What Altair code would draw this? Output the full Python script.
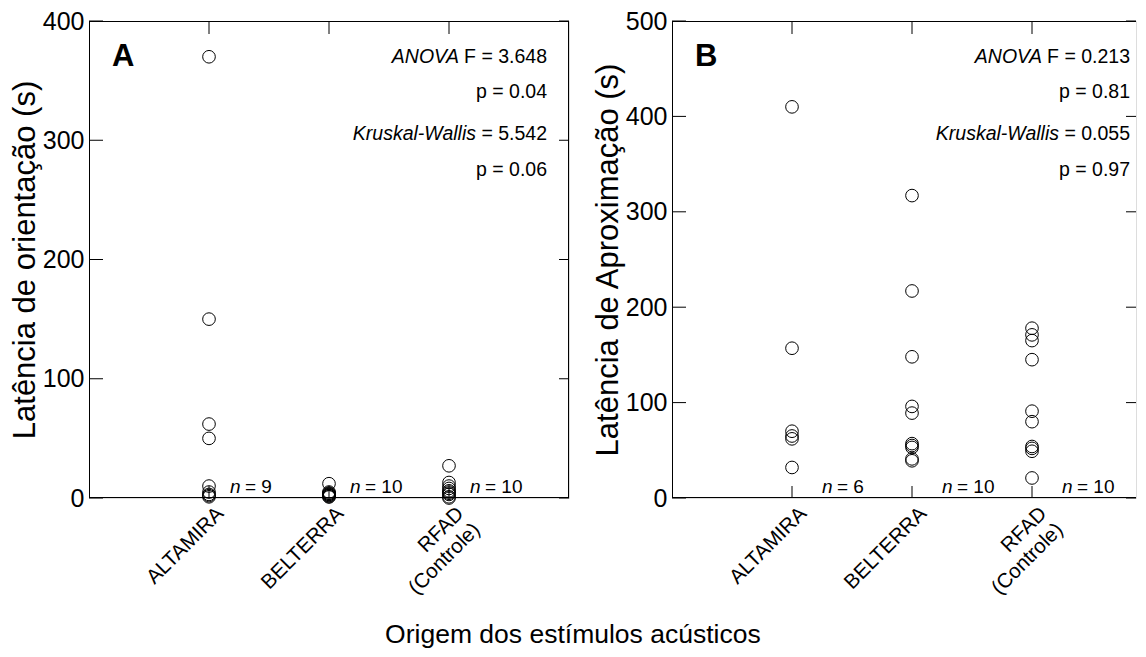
import altair as alt
import pandas as pd

FONT = "Liberation Sans"
H = 477
STEP = 120  # pixels between categories (used to size panels)
WA = 480
WB = 464

groups = ["ALTAMIRA", "BELTERRA", "RFAD (Controle)"]
group_pos = [1, 2, 3]

# Panel A - Latência de orientação (s)
a_altamira = [370, 150, 62, 50, 10, 5, 3, 2, 1]
a_belterra = [12, 5, 4, 4, 3, 3, 2, 2, 1, 1]
a_rfad = [27, 13, 10, 8, 6, 5, 4, 3, 1, 0]
a_n = [9, 10, 10]
a_stats_italic = ["ANOVA", "", "Kruskal-Wallis", ""]
a_stats_normal = ["F = 3.648", "p = 0.04", "= 5.542", "p = 0.06"]

# Panel B - Latência de Aproximação (s)
b_altamira = [410, 157, 70, 65, 62, 32]
b_belterra = [317, 217, 148, 96, 89, 57, 55, 53, 41, 39]
b_rfad = [178, 171, 165, 145, 91, 80, 54, 52, 49, 21]
b_n = [6, 10, 10]
b_stats_italic = ["ANOVA", "", "Kruskal-Wallis", ""]
b_stats_normal = ["F = 0.213", "p = 0.81", "= 0.055", "p = 0.97"]

label_expr = ("datum.value == 1 ? 'ALTAMIRA' : datum.value == 2 ? 'BELTERRA' : "
              "datum.value == 3 ? ['RFAD', '(Controle)'] : ''")

STAT_FS = 19.5
STAT_X = 458


def rule(x=None, x2=None, y=None, y2=None):
    enc = {}
    for k, v in (("x", x), ("x2", x2), ("y", y), ("y2", y2)):
        if v is not None:
            enc[k] = alt.value(v)
    return alt.Chart(pd.DataFrame({"k": [0]})).mark_rule(
        color="black", strokeWidth=1).encode(**enc)


def panel(series, ymax, ytitle, letter, st_it, st_no, ns, n_off, W, right_border):
    rows = []
    for p, vals in zip(group_pos, series):
        for v in vals:
            rows.append({"pos": p, "v": v})
    df = pd.DataFrame(rows)

    xs = alt.Scale(domain=[0, W / STEP], nice=False, zero=False)
    ys = alt.Scale(domain=[0, ymax], nice=False, zero=True)
    yticks = list(range(0, ymax + 1, 100))

    pts = alt.Chart(df).mark_point(
        shape="circle", filled=False, size=160, color="black", strokeWidth=1, opacity=1
    ).encode(
        x=alt.X("pos:Q", scale=xs, axis=alt.Axis(
            values=group_pos, labelExpr=label_expr, labelAngle=315, labelAlign="right",
            labelBaseline="middle", labelFontSize=20.5, labelPadding=12, labelOffset=11,
            title=None, grid=False, domain=False, ticks=False, tickSize=0,
            labelColor="black", labelFont=FONT, labelLineHeight=23)),
        y=alt.Y("v:Q", scale=ys, axis=alt.Axis(
            values=yticks, title=ytitle, titleFontSize=31, titleFont=FONT,
            titleFontWeight="normal", titleColor="black", titlePadding=1,
            labelFontSize=25, labelFont=FONT, labelColor="black", labelPadding=5,
            grid=False, domain=False, ticks=False, tickSize=0)),
    )

    frame = [rule(x=0.5, y=0, y2=H), rule(x=0, x2=W, y=0.5), rule(x=0, x2=W, y=H - 0.5)]
    if right_border:
        frame.append(rule(x=W - 0.5, y=0, y2=H))

    ytk = pd.DataFrame({"t": yticks})
    left_ticks = alt.Chart(ytk).mark_rule(color="black", strokeWidth=1).encode(
        y=alt.Y("t:Q", scale=ys), x=alt.value(0), x2=alt.value(14))
    right_ticks = alt.Chart(ytk).mark_rule(color="black", strokeWidth=1).encode(
        y=alt.Y("t:Q", scale=ys), x=alt.value(W - 10), x2=alt.value(W))
    xtk = pd.DataFrame({"p": group_pos})
    top_ticks = alt.Chart(xtk).mark_rule(color="black", strokeWidth=1).encode(
        x=alt.X("p:Q", scale=xs), y=alt.value(0), y2=alt.value(13))
    bot_ticks = alt.Chart(xtk).mark_rule(color="black", strokeWidth=1).encode(
        x=alt.X("p:Q", scale=xs), y=alt.value(H - 12), y2=alt.value(H))

    st = pd.DataFrame({
        "it": st_it, "no": st_no, "ypx": [36, 71, 113, 149],
        "itx": [STAT_X - 88, 0, STAT_X - 71, 0],
    })
    st_normal = alt.Chart(st).mark_text(
        align="right", baseline="middle", fontSize=STAT_FS, font=FONT, color="black"
    ).encode(x=alt.value(STAT_X), y=alt.Y("ypx:Q", scale=None), text="no:N")
    st_italic = alt.Chart(st).mark_text(
        align="right", baseline="middle", fontSize=STAT_FS, font=FONT, fontStyle="italic",
        color="black"
    ).encode(x=alt.X("itx:Q", scale=None), y=alt.Y("ypx:Q", scale=None), text="it:N")

    lt = alt.Chart(pd.DataFrame({"l": [letter]})).mark_text(
        align="left", baseline="middle", fontSize=31, fontWeight="bold", font=FONT,
        color="black"
    ).encode(x=alt.value(23), y=alt.value(36), text="l:N")

    nd = pd.DataFrame({"np": [p + n_off for p in group_pos],
                       "nt": ["= " + str(n) for n in ns], "ni": ["n"] * 3})
    n_it = alt.Chart(nd).mark_text(
        align="left", baseline="middle", fontSize=19, font=FONT, fontStyle="italic",
        color="black"
    ).encode(x=alt.X("np:Q", scale=xs), y=alt.value(H - 11), text="ni:N")
    n_no = alt.Chart(nd).mark_text(
        align="left", baseline="middle", fontSize=19, font=FONT, color="black", dx=15
    ).encode(x=alt.X("np:Q", scale=xs), y=alt.value(H - 11), text="nt:N")

    return alt.layer(pts, *frame, left_ticks, right_ticks, top_ticks, bot_ticks,
                     st_normal, st_italic, lt, n_it, n_no).properties(width=W, height=H)


pa = panel([a_altamira, a_belterra, a_rfad], 400, "Latência de orientação (s)", "A",
           a_stats_italic, a_stats_normal, a_n, 0.175, WA, True)
pb = panel([b_altamira, b_belterra, b_rfad], 500, "Latência de Aproximação (s)", "B",
           b_stats_italic, b_stats_normal, b_n, 0.25, WB, False)

chart = alt.hconcat(pa, pb, spacing=21).properties(
    title=alt.TitleParams("Origem dos estímulos acústicos", orient="bottom",
                          anchor="middle", fontSize=26.5, fontWeight="normal",
                          font=FONT, color="black", offset=23),
    padding={"top": 0, "left": 0, "right": 0, "bottom": 0},
).configure_view(stroke=None).configure(background="white")

chart.save("out.html", embed_options={"renderer": "svg", "actions": False})
